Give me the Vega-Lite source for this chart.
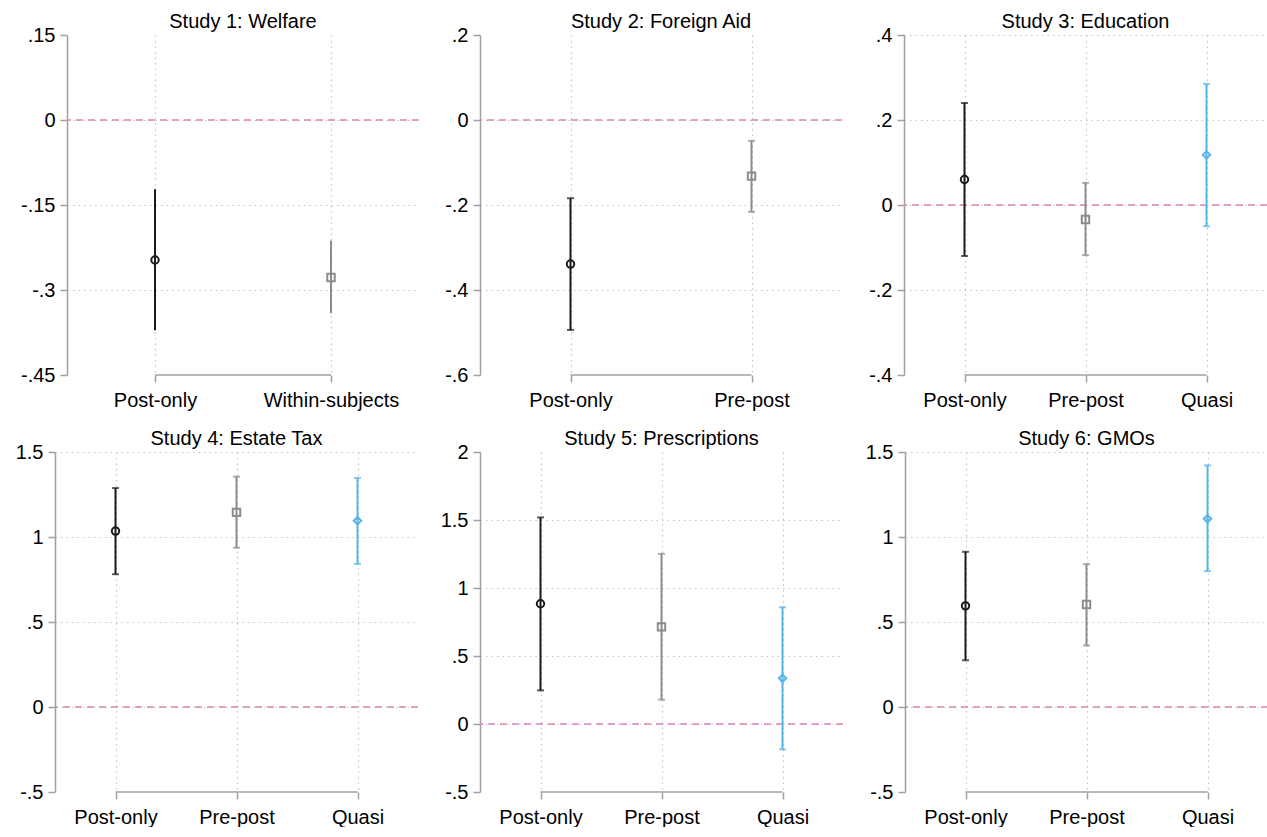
{
  "$schema": "https://vega.github.io/schema/vega-lite/v6.json",
  "padding": {"left": 0, "top": 12, "right": 0, "bottom": 0},
  "spacing": {"row": 19, "column": 10},
  "columns": 4,
  "align": "none",
  "config": {
    "view": {"stroke": null},
    "font": "Liberation Sans",
    "title": {"fontSize": 20, "fontWeight": "normal", "font": "Liberation Sans", "color": "#000000", "offset": -7, "anchor": "middle", "frame": "group"},
    "axis": {"labelFontSize": 20, "labelFont": "Liberation Sans", "labelColor": "#000000", "tickColor": "#a0a0a0", "tickWidth": 1.5, "tickSize": 7, "domainColor": "#a0a0a0", "domainWidth": 1.5, "gridColor": "#c4c4c4", "gridDash": [1.5, 4], "gridWidth": 1.2},
    "axisX": {"labelPadding": 8, "labelAngle": 0, "domain": false, "grid": true},
    "axisY": {"labelPadding": 5, "grid": true}
  },
  "concat": [
    {"width": 1, "height": 1, "data": {"values": []}, "mark": "point"},
    {
      "title": {"text": "Study 1: Welfare"},
      "width": 352, "height": 340,
      "data": {"values": [
        {"design": "Post-only", "est": -0.247, "lo": -0.371, "hi": -0.122},
        {"design": "Within-subjects", "est": -0.278, "lo": -0.341, "hi": -0.213}
      ]},
      "layer": [
        {"data": {"values": [{}]}, "mark": {"type": "rule", "color": "#d987b4", "strokeDash": [7, 5], "strokeWidth": 1.5}, "encoding": {"y": {"datum": 0, "type": "quantitative"}}},
        {"data": {"values": [{}]}, "mark": {"type": "rule", "color": "#a0a0a0", "strokeWidth": 1.5}, "encoding": {"x": {"datum": "Post-only", "type": "nominal"}, "x2": {"datum": "Within-subjects"}, "y": {"value": "height"}}},
        {"mark": {"type": "rule", "strokeWidth": 2}, "encoding": {
          "x": {"field": "design", "type": "nominal", "scale": {"type": "point", "padding": 0.5, "domain": ["Post-only", "Within-subjects"]}, "axis": {"title": null}},
          "y": {"field": "lo", "type": "quantitative", "scale": {"domain": [-0.45, 0.15], "nice": false, "zero": false}, "axis": {"title": null, "values": [0.15, 0, -0.15, -0.3, -0.45], "labelExpr": "(datum.value < 0 ? '-' : '') + replace(format(abs(datum.value), '~g'), '0.', '.')", "gridOpacity": {"condition": {"test": "datum.value < -0.44 || datum.value > 0.14", "value": 0}, "value": 1}, "minExtent": 56, "maxExtent": 56}},
          "y2": {"field": "hi"},
          "color": {"field": "design", "type": "nominal", "scale": {"domain": ["Post-only", "Pre-post", "Quasi", "Within-subjects"], "range": ["#1a1a1a", "#8c8c8c", "#56b4e9", "#8c8c8c"]}, "legend": null}
        }},
        {"mark": {"type": "point", "filled": false, "strokeWidth": 2, "size": 55, "opacity": 1}, "encoding": {
          "x": {"field": "design", "type": "nominal"},
          "y": {"field": "est", "type": "quantitative"},
          "color": {"field": "design", "type": "nominal"},
          "shape": {"field": "design", "type": "nominal", "scale": {"domain": ["Post-only", "Pre-post", "Quasi", "Within-subjects"], "range": ["circle", "square", "diamond", "square"]}, "legend": null}
        }}
      ]
    },
    {
      "title": {"text": "Study 2: Foreign Aid"},
      "width": 362, "height": 340,
      "data": {"values": [
        {"design": "Post-only", "est": -0.339, "lo": -0.494, "hi": -0.184},
        {"design": "Pre-post", "est": -0.132, "lo": -0.216, "hi": -0.049}
      ]},
      "layer": [
        {"data": {"values": [{}]}, "mark": {"type": "rule", "color": "#d987b4", "strokeDash": [7, 5], "strokeWidth": 1.5}, "encoding": {"y": {"datum": 0, "type": "quantitative"}}},
        {"data": {"values": [{}]}, "mark": {"type": "rule", "color": "#a0a0a0", "strokeWidth": 1.5}, "encoding": {"x": {"datum": "Post-only", "type": "nominal"}, "x2": {"datum": "Pre-post"}, "y": {"value": "height"}}},
        {"mark": {"type": "rule", "strokeWidth": 2}, "encoding": {
          "x": {"field": "design", "type": "nominal", "scale": {"type": "point", "padding": 0.5, "domain": ["Post-only", "Pre-post"]}, "axis": {"title": null}},
          "y": {"field": "lo", "type": "quantitative", "scale": {"domain": [-0.6, 0.2], "nice": false, "zero": false}, "axis": {"title": null, "values": [0.2, 0, -0.2, -0.4, -0.6], "labelExpr": "(datum.value < 0 ? '-' : '') + replace(format(abs(datum.value), '~g'), '0.', '.')", "gridOpacity": {"condition": {"test": "datum.value < -0.59 || datum.value > 0.19", "value": 0}, "value": 1}, "minExtent": 39, "maxExtent": 39}},
          "y2": {"field": "hi"},
          "color": {"field": "design", "type": "nominal", "scale": {"domain": ["Post-only", "Pre-post", "Quasi", "Within-subjects"], "range": ["#1a1a1a", "#8c8c8c", "#56b4e9", "#8c8c8c"]}, "legend": null}
        }},
        {"mark": {"type": "tick", "thickness": 2, "size": 7, "orient": "horizontal"}, "encoding": {"x": {"field": "design", "type": "nominal"}, "y": {"field": "lo", "type": "quantitative"}, "color": {"field": "design", "type": "nominal"}}},
        {"mark": {"type": "tick", "thickness": 2, "size": 7, "orient": "horizontal"}, "encoding": {"x": {"field": "design", "type": "nominal"}, "y": {"field": "hi", "type": "quantitative"}, "color": {"field": "design", "type": "nominal"}}},
        {"mark": {"type": "point", "filled": false, "strokeWidth": 2, "size": 55, "opacity": 1}, "encoding": {
          "x": {"field": "design", "type": "nominal"},
          "y": {"field": "est", "type": "quantitative"},
          "color": {"field": "design", "type": "nominal"},
          "shape": {"field": "design", "type": "nominal", "scale": {"domain": ["Post-only", "Pre-post", "Quasi", "Within-subjects"], "range": ["circle", "square", "diamond", "square"]}, "legend": null}
        }}
      ]
    },
    {
      "title": {"text": "Study 3: Education"},
      "width": 363, "height": 340,
      "data": {"values": [
        {"design": "Post-only", "est": 0.060, "lo": -0.120, "hi": 0.240},
        {"design": "Pre-post", "est": -0.034, "lo": -0.118, "hi": 0.052},
        {"design": "Quasi", "est": 0.118, "lo": -0.050, "hi": 0.285}
      ]},
      "layer": [
        {"data": {"values": [{}]}, "mark": {"type": "rule", "color": "#d987b4", "strokeDash": [7, 5], "strokeWidth": 1.5}, "encoding": {"y": {"datum": 0, "type": "quantitative"}}},
        {"data": {"values": [{}]}, "mark": {"type": "rule", "color": "#a0a0a0", "strokeWidth": 1.5}, "encoding": {"x": {"datum": "Post-only", "type": "nominal"}, "x2": {"datum": "Quasi"}, "y": {"value": "height"}}},
        {"mark": {"type": "rule", "strokeWidth": 2}, "encoding": {
          "x": {"field": "design", "type": "nominal", "scale": {"type": "point", "padding": 0.5, "domain": ["Post-only", "Pre-post", "Quasi"]}, "axis": {"title": null}},
          "y": {"field": "lo", "type": "quantitative", "scale": {"domain": [-0.4, 0.4], "nice": false, "zero": false}, "axis": {"title": null, "values": [0.4, 0.2, 0, -0.2, -0.4], "labelExpr": "(datum.value < 0 ? '-' : '') + replace(format(abs(datum.value), '~g'), '0.', '.')", "gridOpacity": {"condition": {"test": "datum.value < -0.39", "value": 0}, "value": 1}, "minExtent": 50, "maxExtent": 50}},
          "y2": {"field": "hi"},
          "color": {"field": "design", "type": "nominal", "scale": {"domain": ["Post-only", "Pre-post", "Quasi", "Within-subjects"], "range": ["#1a1a1a", "#8c8c8c", "#56b4e9", "#8c8c8c"]}, "legend": null}
        }},
        {"mark": {"type": "tick", "thickness": 2, "size": 7, "orient": "horizontal"}, "encoding": {"x": {"field": "design", "type": "nominal"}, "y": {"field": "lo", "type": "quantitative"}, "color": {"field": "design", "type": "nominal"}}},
        {"mark": {"type": "tick", "thickness": 2, "size": 7, "orient": "horizontal"}, "encoding": {"x": {"field": "design", "type": "nominal"}, "y": {"field": "hi", "type": "quantitative"}, "color": {"field": "design", "type": "nominal"}}},
        {"mark": {"type": "point", "filled": false, "strokeWidth": 2, "size": 55, "opacity": 1}, "encoding": {
          "x": {"field": "design", "type": "nominal"},
          "y": {"field": "est", "type": "quantitative"},
          "color": {"field": "design", "type": "nominal"},
          "shape": {"field": "design", "type": "nominal", "scale": {"domain": ["Post-only", "Pre-post", "Quasi", "Within-subjects"], "range": ["circle", "square", "diamond", "square"]}, "legend": null}
        }}
      ]
    },
    {"width": 1, "height": 1, "data": {"values": []}, "mark": "point"},
    {
      "title": {"text": "Study 4: Estate Tax"},
      "width": 363, "height": 340,
      "data": {"values": [
        {"design": "Post-only", "est": 1.035, "lo": 0.781, "hi": 1.288},
        {"design": "Pre-post", "est": 1.145, "lo": 0.937, "hi": 1.355},
        {"design": "Quasi", "est": 1.096, "lo": 0.842, "hi": 1.347}
      ]},
      "layer": [
        {"data": {"values": [{}]}, "mark": {"type": "rule", "color": "#d987b4", "strokeDash": [7, 5], "strokeWidth": 1.5}, "encoding": {"y": {"datum": 0, "type": "quantitative"}}},
        {"data": {"values": [{}]}, "mark": {"type": "rule", "color": "#a0a0a0", "strokeWidth": 1.5}, "encoding": {"x": {"datum": "Post-only", "type": "nominal"}, "x2": {"datum": "Quasi"}, "y": {"value": "height"}}},
        {"mark": {"type": "rule", "strokeWidth": 2}, "encoding": {
          "x": {"field": "design", "type": "nominal", "scale": {"type": "point", "padding": 0.5, "domain": ["Post-only", "Pre-post", "Quasi"]}, "axis": {"title": null}},
          "y": {"field": "lo", "type": "quantitative", "scale": {"domain": [-0.5, 1.5], "nice": false, "zero": false}, "axis": {"title": null, "values": [1.5, 1, 0.5, 0, -0.5], "labelExpr": "(datum.value < 0 ? '-' : '') + replace(format(abs(datum.value), '~g'), '0.', '.')", "gridOpacity": {"condition": {"test": "datum.value < -0.49", "value": 0}, "value": 1}, "minExtent": 44, "maxExtent": 44}},
          "y2": {"field": "hi"},
          "color": {"field": "design", "type": "nominal", "scale": {"domain": ["Post-only", "Pre-post", "Quasi", "Within-subjects"], "range": ["#1a1a1a", "#8c8c8c", "#56b4e9", "#8c8c8c"]}, "legend": null}
        }},
        {"mark": {"type": "tick", "thickness": 2, "size": 7, "orient": "horizontal"}, "encoding": {"x": {"field": "design", "type": "nominal"}, "y": {"field": "lo", "type": "quantitative"}, "color": {"field": "design", "type": "nominal"}}},
        {"mark": {"type": "tick", "thickness": 2, "size": 7, "orient": "horizontal"}, "encoding": {"x": {"field": "design", "type": "nominal"}, "y": {"field": "hi", "type": "quantitative"}, "color": {"field": "design", "type": "nominal"}}},
        {"mark": {"type": "point", "filled": false, "strokeWidth": 2, "size": 55, "opacity": 1}, "encoding": {
          "x": {"field": "design", "type": "nominal"},
          "y": {"field": "est", "type": "quantitative"},
          "color": {"field": "design", "type": "nominal"},
          "shape": {"field": "design", "type": "nominal", "scale": {"domain": ["Post-only", "Pre-post", "Quasi", "Within-subjects"], "range": ["circle", "square", "diamond", "square"]}, "legend": null}
        }}
      ]
    },
    {
      "title": {"text": "Study 5: Prescriptions"},
      "width": 363, "height": 340,
      "data": {"values": [
        {"design": "Post-only", "est": 0.884, "lo": 0.247, "hi": 1.519},
        {"design": "Pre-post", "est": 0.714, "lo": 0.179, "hi": 1.251},
        {"design": "Quasi", "est": 0.336, "lo": -0.186, "hi": 0.858}
      ]},
      "layer": [
        {"data": {"values": [{}]}, "mark": {"type": "rule", "color": "#d987b4", "strokeDash": [7, 5], "strokeWidth": 1.5}, "encoding": {"y": {"datum": 0, "type": "quantitative"}}},
        {"data": {"values": [{}]}, "mark": {"type": "rule", "color": "#a0a0a0", "strokeWidth": 1.5}, "encoding": {"x": {"datum": "Post-only", "type": "nominal"}, "x2": {"datum": "Quasi"}, "y": {"value": "height"}}},
        {"mark": {"type": "rule", "strokeWidth": 2}, "encoding": {
          "x": {"field": "design", "type": "nominal", "scale": {"type": "point", "padding": 0.5, "domain": ["Post-only", "Pre-post", "Quasi"]}, "axis": {"title": null}},
          "y": {"field": "lo", "type": "quantitative", "scale": {"domain": [-0.5, 2], "nice": false, "zero": false}, "axis": {"title": null, "values": [2, 1.5, 1, 0.5, 0, -0.5], "labelExpr": "(datum.value < 0 ? '-' : '') + replace(format(abs(datum.value), '~g'), '0.', '.')", "gridOpacity": {"condition": {"test": "datum.value < -0.49 || datum.value > 1.99", "value": 0}, "value": 1}, "minExtent": 51, "maxExtent": 51}},
          "y2": {"field": "hi"},
          "color": {"field": "design", "type": "nominal", "scale": {"domain": ["Post-only", "Pre-post", "Quasi", "Within-subjects"], "range": ["#1a1a1a", "#8c8c8c", "#56b4e9", "#8c8c8c"]}, "legend": null}
        }},
        {"mark": {"type": "tick", "thickness": 2, "size": 7, "orient": "horizontal"}, "encoding": {"x": {"field": "design", "type": "nominal"}, "y": {"field": "lo", "type": "quantitative"}, "color": {"field": "design", "type": "nominal"}}},
        {"mark": {"type": "tick", "thickness": 2, "size": 7, "orient": "horizontal"}, "encoding": {"x": {"field": "design", "type": "nominal"}, "y": {"field": "hi", "type": "quantitative"}, "color": {"field": "design", "type": "nominal"}}},
        {"mark": {"type": "point", "filled": false, "strokeWidth": 2, "size": 55, "opacity": 1}, "encoding": {
          "x": {"field": "design", "type": "nominal"},
          "y": {"field": "est", "type": "quantitative"},
          "color": {"field": "design", "type": "nominal"},
          "shape": {"field": "design", "type": "nominal", "scale": {"domain": ["Post-only", "Pre-post", "Quasi", "Within-subjects"], "range": ["circle", "square", "diamond", "square"]}, "legend": null}
        }}
      ]
    },
    {
      "title": {"text": "Study 6: GMOs"},
      "width": 363, "height": 340,
      "data": {"values": [
        {"design": "Post-only", "est": 0.595, "lo": 0.275, "hi": 0.913},
        {"design": "Pre-post", "est": 0.603, "lo": 0.362, "hi": 0.840},
        {"design": "Quasi", "est": 1.107, "lo": 0.799, "hi": 1.421}
      ]},
      "layer": [
        {"data": {"values": [{}]}, "mark": {"type": "rule", "color": "#d987b4", "strokeDash": [7, 5], "strokeWidth": 1.5}, "encoding": {"y": {"datum": 0, "type": "quantitative"}}},
        {"data": {"values": [{}]}, "mark": {"type": "rule", "color": "#a0a0a0", "strokeWidth": 1.5}, "encoding": {"x": {"datum": "Post-only", "type": "nominal"}, "x2": {"datum": "Quasi"}, "y": {"value": "height"}}},
        {"mark": {"type": "rule", "strokeWidth": 2}, "encoding": {
          "x": {"field": "design", "type": "nominal", "scale": {"type": "point", "padding": 0.5, "domain": ["Post-only", "Pre-post", "Quasi"]}, "axis": {"title": null}},
          "y": {"field": "lo", "type": "quantitative", "scale": {"domain": [-0.5, 1.5], "nice": false, "zero": false}, "axis": {"title": null, "values": [1.5, 1, 0.5, 0, -0.5], "labelExpr": "(datum.value < 0 ? '-' : '') + replace(format(abs(datum.value), '~g'), '0.', '.')", "gridOpacity": {"condition": {"test": "datum.value < -0.49", "value": 0}, "value": 1}, "minExtent": 51, "maxExtent": 51}},
          "y2": {"field": "hi"},
          "color": {"field": "design", "type": "nominal", "scale": {"domain": ["Post-only", "Pre-post", "Quasi", "Within-subjects"], "range": ["#1a1a1a", "#8c8c8c", "#56b4e9", "#8c8c8c"]}, "legend": null}
        }},
        {"mark": {"type": "tick", "thickness": 2, "size": 7, "orient": "horizontal"}, "encoding": {"x": {"field": "design", "type": "nominal"}, "y": {"field": "lo", "type": "quantitative"}, "color": {"field": "design", "type": "nominal"}}},
        {"mark": {"type": "tick", "thickness": 2, "size": 7, "orient": "horizontal"}, "encoding": {"x": {"field": "design", "type": "nominal"}, "y": {"field": "hi", "type": "quantitative"}, "color": {"field": "design", "type": "nominal"}}},
        {"mark": {"type": "point", "filled": false, "strokeWidth": 2, "size": 55, "opacity": 1}, "encoding": {
          "x": {"field": "design", "type": "nominal"},
          "y": {"field": "est", "type": "quantitative"},
          "color": {"field": "design", "type": "nominal"},
          "shape": {"field": "design", "type": "nominal", "scale": {"domain": ["Post-only", "Pre-post", "Quasi", "Within-subjects"], "range": ["circle", "square", "diamond", "square"]}, "legend": null}
        }}
      ]
    }
  ]
}
